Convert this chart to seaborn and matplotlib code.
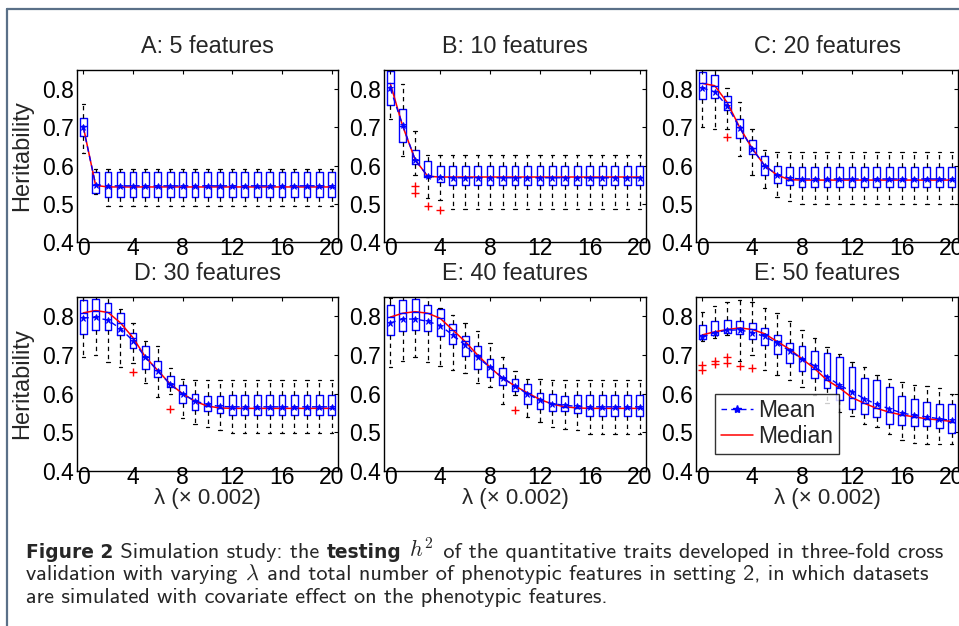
import numpy as np
import pandas as pd
import matplotlib
matplotlib.use("Agg")
import matplotlib.pyplot as plt
from matplotlib.lines import Line2D
import seaborn as sns

# ---------------- data ----------------
lam = list(range(21))
titles = ["A: 5 features", "B: 10 features", "C: 20 features",
          "D: 30 features", "E: 40 features", "E: 50 features"]

A_lo = [0.632, 0.526] + [0.493] * 19
A_q1 = [0.677, 0.529] + [0.518] * 19
A_med = [0.703, 0.548] + [0.544] * 19
A_q3 = [0.725] + [0.582] * 20
A_hi = [0.760, 0.590] + [0.591] * 19
A_mean = [0.700, 0.550] + [0.547] * 19
A_out_x = []
A_out_y = []

B_lo = [0.721, 0.626, 0.576, 0.515, 0.510] + [0.487] * 16
B_q1 = [0.758, 0.662, 0.604, 0.570, 0.557] + [0.550] * 16
B_med = [0.815, 0.703, 0.615, 0.572, 0.570] + [0.570] * 16
B_q3 = [0.848, 0.749, 0.640, 0.611, 0.600] + [0.600] * 16
B_hi = [0.860, 0.813, 0.690, 0.627, 0.627] + [0.627] * 16
B_mean = [0.802, 0.705, 0.615, 0.572, 0.570] + [0.568] * 16
B_out_x = [2, 2, 3, 4]
B_out_y = [0.546, 0.529, 0.495, 0.485]

C_lo = [0.700, 0.695, 0.695, 0.625, 0.576, 0.541, 0.519, 0.506] + [0.500] * 13
C_q1 = [0.774, 0.776, 0.745, 0.671, 0.629, 0.576, 0.554, 0.550] + [0.544] * 13
C_med = [0.815, 0.809, 0.765, 0.700, 0.645, 0.600, 0.575, 0.563] + [0.562] * 13
C_q3 = [0.844, 0.837, 0.781, 0.721, 0.666, 0.625, 0.598, 0.597] + [0.597] * 13
C_hi = [0.860, 0.860, 0.804, 0.765, 0.695, 0.640, 0.635, 0.635] + [0.635] * 13
C_mean = [0.803, 0.793, 0.756, 0.699, 0.644, 0.600, 0.576, 0.567] + [0.565] * 13
C_out_x = [2]
C_out_y = [0.676]

D_lo = [0.694, 0.700, 0.683, 0.668, 0.679, 0.627, 0.592, 0.600, 0.538, 0.521, 0.514, 0.505] + [0.498] * 9
D_q1 = [0.755, 0.764, 0.765, 0.752, 0.718, 0.663, 0.642, 0.616, 0.576, 0.557, 0.554, 0.550] + [0.544] * 9
D_med = [0.809, 0.815, 0.810, 0.783, 0.745, 0.695, 0.660, 0.625, 0.600, 0.580, 0.568, 0.563] + [0.562] * 9
D_q3 = [0.842, 0.845, 0.835, 0.809, 0.758, 0.722, 0.685, 0.646, 0.622, 0.600, 0.594, 0.594] + [0.596] * 9
D_hi = [0.860, 0.860, 0.850, 0.820, 0.784, 0.735, 0.722, 0.666, 0.637, 0.635, 0.635, 0.635] + [0.635] * 9
D_mean = [0.796, 0.797, 0.790, 0.768, 0.737, 0.694, 0.659, 0.624, 0.599, 0.581, 0.572, 0.567] + [0.566] * 9
D_out_x = [4, 7]
D_out_y = [0.657, 0.561]

E_lo = [0.668, 0.685, 0.694, 0.683, 0.672, 0.661, 0.653, 0.627, 0.616, 0.574, 0.596,
        0.540, 0.527, 0.513, 0.509, 0.505] + [0.496] * 5
E_q1 = [0.752, 0.761, 0.764, 0.761, 0.750, 0.729, 0.698, 0.663, 0.642, 0.622, 0.607,
        0.574, 0.561, 0.554, 0.554, 0.550] + [0.541] * 5
E_med = [0.798, 0.808, 0.812, 0.808, 0.795, 0.765, 0.735, 0.700, 0.668, 0.640, 0.620,
         0.602, 0.585, 0.573, 0.566, 0.563] + [0.562] * 5
E_q3 = [0.829, 0.843, 0.845, 0.830, 0.819, 0.781, 0.748, 0.722, 0.689, 0.666, 0.638,
        0.624, 0.602, 0.599, 0.594, 0.596] + [0.597] * 5
E_hi = [0.848, 0.860, 0.860, 0.850, 0.822, 0.804, 0.784, 0.761, 0.732, 0.696, 0.659,
        0.639, 0.637, 0.635, 0.635, 0.635] + [0.635] * 5
E_mean = [0.783, 0.793, 0.793, 0.787, 0.776, 0.752, 0.726, 0.694, 0.668, 0.641, 0.620,
          0.599, 0.583, 0.574, 0.570, 0.567] + [0.566] * 5
E_out_x = [10]
E_out_y = [0.557]

F_lo = [0.735, 0.745, 0.752, 0.685, 0.700, 0.661, 0.648, 0.635, 0.618, 0.596, 0.576,
        0.553, 0.541, 0.522, 0.514, 0.495, 0.479, 0.472, 0.470, 0.470, 0.470]
F_q1 = [0.741, 0.752, 0.758, 0.755, 0.741, 0.726, 0.703, 0.680, 0.659, 0.640, 0.615,
        0.583, 0.561, 0.548, 0.540, 0.522, 0.520, 0.516, 0.516, 0.510, 0.498]
F_med = [0.752, 0.760, 0.766, 0.770, 0.766, 0.755, 0.735, 0.715, 0.690, 0.665, 0.635,
         0.615, 0.590, 0.575, 0.562, 0.552, 0.545, 0.540, 0.535, 0.532, 0.528]
F_q3 = [0.778, 0.787, 0.791, 0.789, 0.783, 0.770, 0.752, 0.731, 0.722, 0.711, 0.705,
        0.694, 0.668, 0.640, 0.635, 0.616, 0.594, 0.585, 0.579, 0.573, 0.573]
F_hi = [0.810, 0.826, 0.836, 0.842, 0.836, 0.822, 0.809, 0.787, 0.765, 0.744, 0.720,
        0.703, 0.683, 0.668, 0.648, 0.639, 0.631, 0.622, 0.620, 0.614, 0.599]
F_mean = [0.746, 0.758, 0.764, 0.765, 0.758, 0.748, 0.731, 0.711, 0.690, 0.672, 0.644,
          0.622, 0.605, 0.587, 0.572, 0.561, 0.550, 0.544, 0.540, 0.535, 0.531]
F_out_x = [0, 0, 1, 1, 2, 2, 3, 4]
F_out_y = [0.674, 0.661, 0.685, 0.677, 0.694, 0.680, 0.672, 0.666]

xtick_vals = [0, 4, 8, 12, 16, 20]
ytick_vals = [0.4, 0.5, 0.6, 0.7, 0.8]

panels = [
    (A_lo, A_q1, A_med, A_q3, A_hi, A_mean, A_out_x, A_out_y),
    (B_lo, B_q1, B_med, B_q3, B_hi, B_mean, B_out_x, B_out_y),
    (C_lo, C_q1, C_med, C_q3, C_hi, C_mean, C_out_x, C_out_y),
    (D_lo, D_q1, D_med, D_q3, D_hi, D_mean, D_out_x, D_out_y),
    (E_lo, E_q1, E_med, E_q3, E_hi, E_mean, E_out_x, E_out_y),
    (F_lo, F_q1, F_med, F_q3, F_hi, F_mean, F_out_x, F_out_y),
]

# ---------------- style ----------------
sns.set_style("white")
plt.rcParams["font.family"] = ["Liberation Sans", "DejaVu Sans"]
plt.rcParams["mathtext.fontset"] = "cm"

W, H = 959, 626
fig = plt.figure(figsize=(W / 100, H / 100), dpi=100)

TICK, TITLE, YLAB, XLAB, LEG = 16.5, 16.8, 17, 16, 16.5

col_lr = [(77, 338), (384, 646), (696, 958)]
row_tb = [(70, 242), (297, 471)]


def add_ax(l, r, t, b):
    return fig.add_axes([l / W, 1 - b / H, (r - l) / W, (b - t) / H])


for i, (lo, q1, med, q3, hi, mean, ox, oy) in enumerate(panels):
    row, col = divmod(i, 3)
    l, r = col_lr[col]
    t, b = row_tb[row]
    ax = add_ax(l, r, t, b)

    df = pd.DataFrame({
        "lam": np.repeat(lam, 5),
        "val": np.column_stack([lo, q1, med, q3, hi]).ravel(),
    })
    sns.boxplot(data=df, x="lam", y="val", ax=ax, whis=(0, 100), width=0.55,
                fill=False, color="blue", linewidth=1, showfliers=False,
                boxprops=dict(color="blue", linewidth=1),
                medianprops=dict(color="blue", linewidth=1),
                whiskerprops=dict(color="black", linestyle=(0, (3.5, 3)), linewidth=0.9),
                capprops=dict(color="black", linewidth=0.9))
    sns.lineplot(x=lam, y=med, ax=ax, color="red", linewidth=1.1)
    sns.lineplot(x=lam, y=mean, ax=ax, color="blue", linewidth=1.0,
                 linestyle=(0, (4, 3)), marker="*", markersize=5,
                 markeredgecolor="blue", markerfacecolor="blue", markeredgewidth=0.6)
    if len(ox):
        sns.scatterplot(x=ox, y=oy, ax=ax, marker="+", color="red", s=35,
                        linewidth=1.0, zorder=5)

    ax.set_xlim(-0.5, 20.5)
    ax.set_ylim(0.4, 0.85)
    ax.set_xticks(xtick_vals)
    ax.set_xticklabels([str(v) for v in xtick_vals])
    ax.set_yticks(ytick_vals)
    ax.set_yticklabels([f"{v:.1f}" for v in ytick_vals])
    ax.tick_params(direction="in", length=3, width=0.8, top=True, right=True,
                   labelsize=TICK, colors="black")
    ax.tick_params(axis="x", pad=-3.5)
    ax.tick_params(axis="y", pad=2)
    for sp in ax.spines.values():
        sp.set_color("black")
        sp.set_linewidth(1.0)
        sp.set_visible(True)
    ax.set_title(titles[i], fontsize=TITLE, pad=12)
    ax.set_xlabel("")
    ax.set_ylabel("")
    if col == 0:
        ax.set_ylabel("Heritability", fontsize=YLAB)
        ax.yaxis.set_label_coords(-0.169, 0.5)
    if row == 1:
        ax.set_xlabel("λ (× 0.002)", fontsize=XLAB)
        ax.xaxis.set_label_coords(0.5, -0.095)
    if i == 5:
        handles = [
            Line2D([], [], color="blue", linestyle=(0, (4, 3)), marker="*",
                   markersize=6, markeredgecolor="blue", linewidth=1.0),
            Line2D([], [], color="red", linewidth=1.1),
        ]
        leg = ax.legend(handles, ["Mean", "Median"], loc="lower left",
                        bbox_to_anchor=(0.072, 0.098), borderaxespad=0,
                        fontsize=LEG, frameon=True, fancybox=False,
                        handlelength=1.4, handletextpad=0.25, borderpad=0.25,
                        labelspacing=0.12)
        leg.get_frame().set_edgecolor("black")
        leg.get_frame().set_linewidth(1.0)

# ---------------- figure frame ----------------
frame_c = "#5a7088"
fig.add_artist(Line2D([7 / W, 7 / W], [0, 1 - 9 / H], color=frame_c, linewidth=1.6,
                      transform=fig.transFigure))
fig.add_artist(Line2D([7 / W, 1], [1 - 9 / H, 1 - 9 / H], color=frame_c, linewidth=1.6,
                      transform=fig.transFigure))

# ---------------- caption ----------------
REG = dict(family="cmss10")
BLD = dict(family="DejaVu Sans", weight="bold")
MTH = dict(family="cmss10")

cap_lines = [
    [("Figure 2", BLD), (" Simulation study: the ", REG), ("testing", BLD), (" ", REG),
     (r"$h^2$", MTH), (" of the quantitative traits developed in three-fold cross", REG)],
    [("validation with varying ", REG), (r"$\lambda$", MTH),
     (" and total number of phenotypic features in setting 2, in which datasets", REG)],
    [("are simulated with covariate effect on the phenotypic features.", REG)],
]
rend = fig.canvas.get_renderer()


def seg_width(s, size, props):
    t1 = fig.text(0, 0, s + "|", fontsize=size, **props)
    w1 = t1.get_window_extent(rend).width
    t1.remove()
    t2 = fig.text(0, 0, "|", fontsize=size, **props)
    w2 = t2.get_window_extent(rend).width
    t2.remove()
    return w1 - w2


cap_x0 = 26
base = 11.0
# regular size from line 2 span; bold size so that line 1 ends at the right place
w_line2 = sum(seg_width(s, base, p) for s, p in cap_lines[1])
reg_size = base * (934 - cap_x0) / w_line2
reg_part1 = sum(seg_width(s, reg_size, p) for s, p in cap_lines[0] if p is not BLD)
bold_part1 = sum(seg_width(s, base, p) for s, p in cap_lines[0] if p is BLD)
bold_size = base * (942 - cap_x0 - reg_part1) / bold_part1
bold_size = min(max(bold_size, reg_size * 0.75), reg_size * 1.0)
cap_y = [558, 580, 603]
for segs, yb in zip(cap_lines, cap_y):
    x = cap_x0
    for s, p in segs:
        sz = bold_size if p is BLD else reg_size
        fig.text(x / W, 1 - yb / H, s, fontsize=sz, va="baseline", ha="left", **p)
        x += seg_width(s, sz, p)

fig.savefig("out.png", dpi=100)
